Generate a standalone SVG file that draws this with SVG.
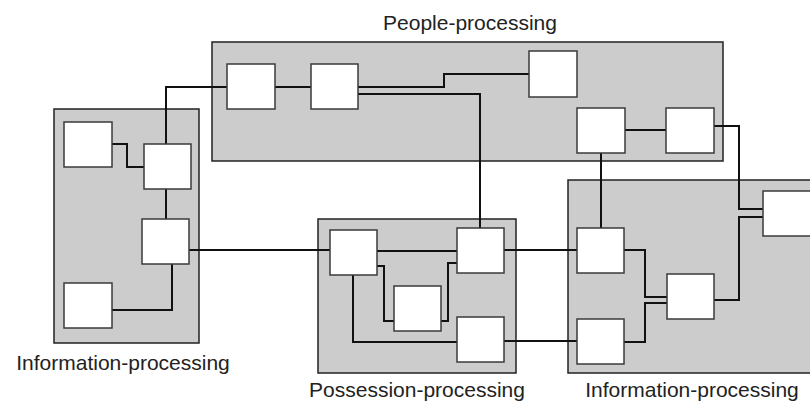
<svg xmlns="http://www.w3.org/2000/svg" width="810" height="403" viewBox="0 0 810 403">
<style>
.panel{fill:#cccccc;stroke:#222;stroke-width:1.5}
.box{fill:#fff;stroke:#3a3a3a;stroke-width:1.5}
.wire{fill:none;stroke:#111;stroke-width:2}
.lbl{font-family:"Liberation Sans",Arial,sans-serif;font-size:21px;fill:#222;text-anchor:middle}
</style>
<rect width="810" height="403" fill="#fff"/>
<g id="panel-info-left"><rect class="panel" x="54" y="109" width="145" height="234"/><text class="lbl" x="123" y="370">Information-processing</text></g>
<g id="panel-people"><rect class="panel" x="212" y="42" width="511" height="119"/><text class="lbl" x="470" y="30">People-processing</text></g>
<g id="panel-possession"><rect class="panel" x="318" y="219" width="198" height="154"/><text class="lbl" x="417" y="397">Possession-processing</text></g>
<g id="panel-info-right"><rect class="panel" x="568" y="180" width="260" height="193"/><text class="lbl" x="692" y="397">Information-processing</text></g>
<g id="connectors">
<path class="wire" d="M112,144 H127 V167 H144"/>
<path class="wire" d="M166,144 V87 H227"/>
<path class="wire" d="M166,189 V219"/>
<path class="wire" d="M189,250 H330"/>
<path class="wire" d="M172,264 V310 H112"/>
<path class="wire" d="M275,87 H311"/>
<path class="wire" d="M358,87 H444 V74 H529"/>
<path class="wire" d="M358,94 H480 V228"/>
<path class="wire" d="M625,130 H666"/>
<path class="wire" d="M601,153 V228"/>
<path class="wire" d="M714,126 H739 V209 H763"/>
<path class="wire" d="M714,300 H739 V217 H763"/>
<path class="wire" d="M377,251 H457"/>
<path class="wire" d="M504,250 H577"/>
<path class="wire" d="M504,341 H577"/>
<path class="wire" d="M377,266 H384 V321 H394"/>
<path class="wire" d="M441,321 H448 V263 H457"/>
<path class="wire" d="M353,275 V342 H457"/>
<path class="wire" d="M624,250 H645 V297 H667"/>
<path class="wire" d="M624,342 H645 V303 H667"/>
</g>
<g id="L1"><rect class="box" x="64" y="122" width="48" height="45"/></g>
<g id="L2"><rect class="box" x="144" y="144" width="47" height="45"/></g>
<g id="L3"><rect class="box" x="142" y="219" width="47" height="45"/></g>
<g id="L4"><rect class="box" x="64" y="283" width="48" height="45"/></g>
<g id="P1"><rect class="box" x="227" y="64" width="48" height="45"/></g>
<g id="P2"><rect class="box" x="311" y="64" width="47" height="45"/></g>
<g id="P3"><rect class="box" x="529" y="51" width="48" height="46"/></g>
<g id="P4"><rect class="box" x="577" y="108" width="48" height="45"/></g>
<g id="P5"><rect class="box" x="666" y="108" width="48" height="45"/></g>
<g id="Q1"><rect class="box" x="330" y="230" width="47" height="45"/></g>
<g id="Q2"><rect class="box" x="457" y="228" width="47" height="45"/></g>
<g id="Q3"><rect class="box" x="394" y="286" width="47" height="45"/></g>
<g id="Q4"><rect class="box" x="457" y="317" width="47" height="45"/></g>
<g id="I1"><rect class="box" x="577" y="228" width="47" height="45"/></g>
<g id="M"><rect class="box" x="667" y="274" width="47" height="45"/></g>
<g id="I3"><rect class="box" x="577" y="319" width="47" height="45"/></g>
<g id="R"><rect class="box" x="763" y="191" width="48" height="45"/></g>
</svg>
